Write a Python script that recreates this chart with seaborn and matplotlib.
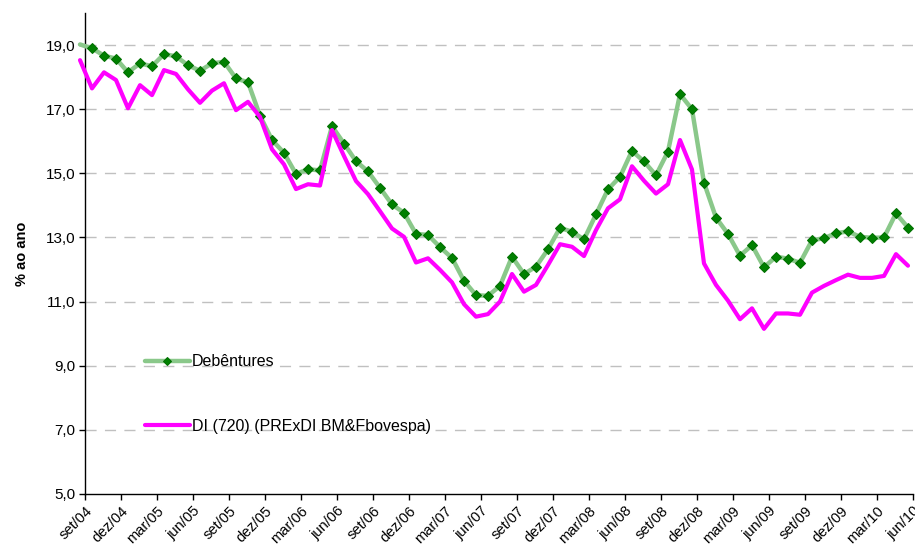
import numpy as np
import pandas as pd
import matplotlib
matplotlib.use("Agg")
import matplotlib.pyplot as plt
import seaborn as sns

# monthly series, ago/04 .. jun/10 (70 points)
debentures = [19.02, 18.90, 18.67, 18.58, 18.15, 18.43, 18.34, 18.72, 18.65, 18.37,
              18.20, 18.43, 18.48, 17.96, 17.84, 16.80, 16.04, 15.64, 14.98, 15.13,
              15.09, 16.47, 15.93, 15.38, 15.06, 14.55, 14.03, 13.77, 13.11, 13.08,
              12.70, 12.36, 11.65, 11.20, 11.18, 11.49, 12.40, 11.86, 12.09, 12.63,
              13.30, 13.18, 12.94, 13.72, 14.50, 14.89, 15.70, 15.37, 14.94, 15.68,
              17.47, 17.00, 14.71, 13.62, 13.11, 12.43, 12.76, 12.07, 12.40, 12.34,
              12.21, 12.91, 12.98, 13.13, 13.19, 13.02, 12.99, 13.00, 13.75, 13.31]

di_720 = [18.53, 17.65, 18.15, 17.91, 17.03, 17.75, 17.44, 18.22, 18.10, 17.62,
          17.20, 17.58, 17.81, 16.97, 17.23, 16.76, 15.75, 15.28, 14.51, 14.66,
          14.62, 16.35, 15.54, 14.76, 14.35, 13.82, 13.28, 13.02, 12.22, 12.35,
          11.99, 11.60, 10.92, 10.53, 10.61, 11.00, 11.86, 11.31, 11.52, 12.14,
          12.79, 12.71, 12.42, 13.23, 13.91, 14.19, 15.22, 14.77, 14.37, 14.66,
          16.04, 15.12, 12.19, 11.52, 11.03, 10.45, 10.79, 10.15, 10.63, 10.63,
          10.59, 11.28, 11.49, 11.67, 11.84, 11.74, 11.74, 11.80, 12.48, 12.12]

tick_labels = ["set/04", "dez/04", "mar/05", "jun/05", "set/05", "dez/05",
               "mar/06", "jun/06", "set/06", "dez/06", "mar/07", "jun/07",
               "set/07", "dez/07", "mar/08", "jun/08", "set/08", "dez/08",
               "mar/09", "jun/09", "set/09", "dez/09", "mar/10", "jun/10"]

y_ticks = [5, 7, 9, 11, 13, 15, 17, 19]

df = pd.DataFrame({"mes": np.arange(len(debentures)),
                   "deb": debentures, "di": di_720})

sns.set_style("white")
plt.rcParams["font.family"] = ["Liberation Sans", "DejaVu Sans"]
plt.rcParams["text.color"] = "black"
plt.rcParams["axes.labelcolor"] = "black"
plt.rcParams["xtick.color"] = "black"
plt.rcParams["ytick.color"] = "black"

fig = plt.figure(figsize=(9.15, 5.52), dpi=100)
ax = fig.add_axes([0.0929, 0.1051, 0.9049, 0.8713])

sns.lineplot(data=df, x="mes", y="deb", ax=ax, color="#8ac88a", lw=3.2,
             marker="D", markersize=5, markerfacecolor="#008000",
             markeredgecolor="#007000", markevery=slice(1, None),
             label="Debêntures", clip_on=False, zorder=3)
sns.lineplot(data=df, x="mes", y="di", ax=ax, color="#ff00ff", lw=3.0,
             label="DI (720) (PRExDI BM&Fbovespa)", clip_on=False, zorder=4)

# month ticks fall a little after the data points
offset = 5 / 12
ax.set_xlim(offset, len(debentures) - 1 + offset)
ax.set_xticks(np.arange(len(tick_labels)) * 3 + offset)
ax.set_xticklabels(tick_labels, rotation=45, ha="right", rotation_mode="anchor",
                   fontsize=10.5)

ax.set_ylim(5, 20)
ax.set_yticks(y_ticks)
ax.set_yticklabels([f"{v:.1f}".replace(".", ",") for v in y_ticks], fontsize=11)
ax.set_ylabel("% ao ano", fontsize=10.5, fontweight="bold", labelpad=12)
ax.set_xlabel("")

for v in y_ticks[1:]:
    ax.axhline(v, color="#c0c0c0", lw=1, ls=(0, (8, 6)), zorder=1)

for s in ["top", "right"]:
    ax.spines[s].set_visible(False)
for s in ["left", "bottom"]:
    ax.spines[s].set_color("black")
    ax.spines[s].set_linewidth(1)
ax.tick_params(axis="both", direction="out", length=4, width=1, color="black",
               labelcolor="black", pad=3, bottom=True, left=True)

leg = ax.legend(loc="center left", bbox_to_anchor=(0.0725, 0.208), frameon=False,
                fontsize=11.5, handlelength=2.8, handletextpad=0.15,
                labelspacing=3.1, borderpad=0, borderaxespad=0)
leg.legend_handles[0].set_markersize(4)
for t in leg.get_texts():
    t.set_color("black")

fig.savefig("out.png", dpi=100)
